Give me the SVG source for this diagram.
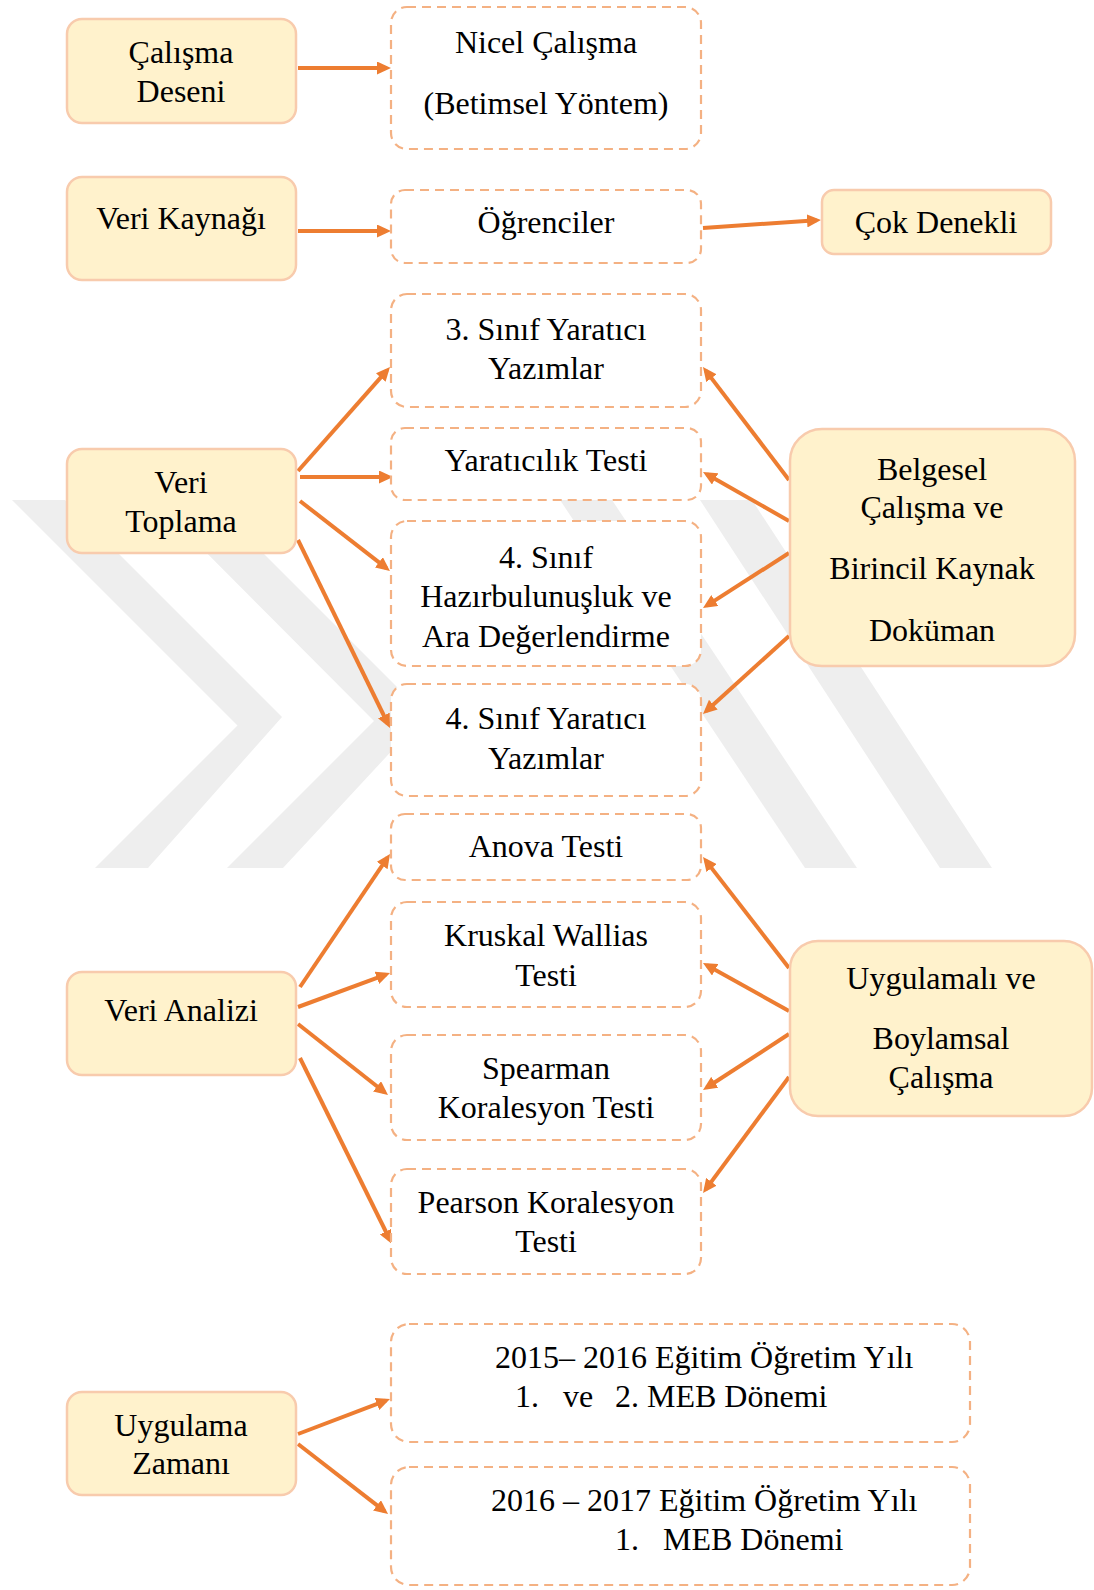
<svg xmlns="http://www.w3.org/2000/svg" width="1094" height="1590" viewBox="0 0 1094 1590">
<defs>
<style>
.t{font-family:"Liberation Serif","Times New Roman",serif;font-size:32px;fill:#000;text-anchor:middle}
.ts{font-family:"Liberation Serif","Times New Roman",serif;font-size:32px;fill:#000}
.fill{fill:#FFF2CC;stroke:#F8CBAD;stroke-width:2.5}
.dash{fill:#FFFFFF;stroke:#F4B183;stroke-width:2.2;stroke-dasharray:9 6}
.wm{fill:#EEEEEE}
.c{stroke:#ED7D31;stroke-width:4;fill:none;marker-end:url(#ah)}
</style>
<marker id="ah" markerUnits="userSpaceOnUse" markerWidth="14" markerHeight="13" refX="9.5" refY="6.5" orient="auto">
<path d="M0,0 L14,6.5 L0,13 z" fill="#ED7D31"/>
</marker>
</defs>
<rect width="1094" height="1590" fill="#FFFFFF"/>
<g id="watermark">
<polygon class="wm" points="12,500 65,500 282,717 148,868 95,868 237.5,725.5"/>
<polygon class="wm" points="154,500 210,500 425,715 283,868 227,868 374,721"/>
<polygon class="wm" points="700,500 752,500 992,868 940,868"/>
<polygon class="wm" points="560,500 612,500 857,868 805,868"/>
</g>
<g id="connectors">
<line class="c" x1="298" y1="68" x2="386.5" y2="68"/>
<line class="c" x1="298" y1="231" x2="386.5" y2="231"/>
<line class="c" x1="703" y1="228" x2="816.5" y2="220.3"/>
<line class="c" x1="298" y1="471" x2="387" y2="370.4"/>
<line class="c" x1="300" y1="477" x2="388.5" y2="477"/>
<line class="c" x1="300" y1="501" x2="386.4" y2="568.2"/>
<line class="c" x1="298" y1="540" x2="388" y2="724"/>
<line class="c" x1="789" y1="480" x2="705.7" y2="370.6"/>
<line class="c" x1="789" y1="521" x2="706.9" y2="474.2"/>
<line class="c" x1="789" y1="553" x2="706.8" y2="605.6"/>
<line class="c" x1="789" y1="636" x2="706.3" y2="711"/>
<line class="c" x1="300" y1="987" x2="387.5" y2="857.7"/>
<line class="c" x1="298" y1="1007" x2="385.8" y2="974.6"/>
<line class="c" x1="298" y1="1024" x2="384.5" y2="1092.2"/>
<line class="c" x1="300" y1="1058" x2="390" y2="1240"/>
<line class="c" x1="789" y1="968" x2="705.8" y2="860.6"/>
<line class="c" x1="789" y1="1011" x2="706.9" y2="965.2"/>
<line class="c" x1="789" y1="1034" x2="706.8" y2="1087.5"/>
<line class="c" x1="789" y1="1077" x2="705.7" y2="1189.4"/>
<line class="c" x1="298" y1="1434" x2="385.8" y2="1400.6"/>
<line class="c" x1="298" y1="1444" x2="384.5" y2="1511.2"/>
</g>
<g id="n-calisma-deseni">
<rect class="fill" x="67" y="19" width="229" height="104" rx="15"/>
<text class="t" x="181" y="63">Çalışma</text>
<text class="t" x="181" y="102">Deseni</text>
</g>
<g id="n-nicel">
<rect class="dash" x="391" y="7" width="310" height="142" rx="16"/>
<text class="t" x="546" y="53">Nicel Çalışma</text>
<text class="t" x="546" y="114">(Betimsel Yöntem)</text>
</g>
<g id="n-veri-kaynagi">
<rect class="fill" x="67" y="177" width="229" height="103" rx="15"/>
<text class="t" x="181" y="229">Veri Kaynağı</text>
</g>
<g id="n-ogrenciler">
<rect class="dash" x="391" y="190" width="310" height="73" rx="14"/>
<text class="t" x="546" y="233">Öğrenciler</text>
</g>
<g id="n-cok-denekli">
<rect class="fill" x="822" y="190" width="229" height="64" rx="12"/>
<text class="t" x="936" y="233">Çok Denekli</text>
</g>
<g id="n-3-sinif">
<rect class="dash" x="391" y="294" width="310" height="113" rx="16"/>
<text class="t" x="546" y="340">3. Sınıf Yaratıcı</text>
<text class="t" x="546" y="379">Yazımlar</text>
</g>
<g id="n-yaraticilik">
<rect class="dash" x="391" y="428" width="310" height="72" rx="14"/>
<text class="t" x="546" y="471">Yaratıcılık Testi</text>
</g>
<g id="n-hazirbulunusluk">
<rect class="dash" x="391" y="521" width="310" height="145" rx="16"/>
<text class="t" x="546" y="568">4. Sınıf</text>
<text class="t" x="546" y="607">Hazırbulunuşluk ve</text>
<text class="t" x="546" y="647">Ara Değerlendirme</text>
</g>
<g id="n-4-sinif">
<rect class="dash" x="391" y="684" width="310" height="112" rx="16"/>
<text class="t" x="546" y="729">4. Sınıf Yaratıcı</text>
<text class="t" x="546" y="769">Yazımlar</text>
</g>
<g id="n-veri-toplama">
<rect class="fill" x="67" y="449" width="229" height="104" rx="15"/>
<text class="t" x="181" y="493">Veri</text>
<text class="t" x="181" y="532">Toplama</text>
</g>
<g id="n-belgesel">
<rect class="fill" x="790" y="429" width="285" height="237" rx="32"/>
<text class="t" x="932" y="480">Belgesel</text>
<text class="t" x="932" y="518">Çalışma ve</text>
<text class="t" x="932" y="579">Birincil Kaynak</text>
<text class="t" x="932" y="641">Doküman</text>
</g>
<g id="n-anova">
<rect class="dash" x="391" y="814" width="310" height="66" rx="14"/>
<text class="t" x="546" y="857">Anova Testi</text>
</g>
<g id="n-kruskal">
<rect class="dash" x="391" y="902" width="310" height="105" rx="16"/>
<text class="t" x="546" y="946">Kruskal Wallias</text>
<text class="t" x="546" y="986">Testi</text>
</g>
<g id="n-spearman">
<rect class="dash" x="391" y="1035" width="310" height="105" rx="16"/>
<text class="t" x="546" y="1079">Spearman</text>
<text class="t" x="546" y="1118">Koralesyon Testi</text>
</g>
<g id="n-pearson">
<rect class="dash" x="391" y="1169" width="310" height="105" rx="16"/>
<text class="t" x="546" y="1213">Pearson Koralesyon</text>
<text class="t" x="546" y="1252">Testi</text>
</g>
<g id="n-veri-analizi">
<rect class="fill" x="67" y="972" width="229" height="103" rx="15"/>
<text class="t" x="181" y="1021">Veri Analizi</text>
</g>
<g id="n-uygulamali">
<rect class="fill" x="790" y="941" width="302" height="175" rx="28"/>
<text class="t" x="941" y="989">Uygulamalı ve</text>
<text class="t" x="941" y="1049">Boylamsal</text>
<text class="t" x="941" y="1088">Çalışma</text>
</g>
<g id="n-uygulama-zamani">
<rect class="fill" x="67" y="1392" width="229" height="103" rx="15"/>
<text class="t" x="181" y="1436">Uygulama</text>
<text class="t" x="181" y="1474">Zamanı</text>
</g>
<g id="n-2015">
<rect class="dash" x="391" y="1324" width="579" height="118" rx="18"/>
<text class="ts" x="495" y="1368">2015– 2016 Eğitim Öğretim Yılı</text>
<text class="ts" x="515" y="1407">1.</text>
<text class="ts" x="563" y="1407">ve</text>
<text class="ts" x="615" y="1407">2. MEB Dönemi</text>
</g>
<g id="n-2016">
<rect class="dash" x="391" y="1467" width="579" height="118" rx="18"/>
<text class="ts" x="491" y="1511">2016 – 2017 Eğitim Öğretim Yılı</text>
<text class="ts" x="615" y="1550">1.</text>
<text class="ts" x="663" y="1550">MEB Dönemi</text>
</g>
</svg>
